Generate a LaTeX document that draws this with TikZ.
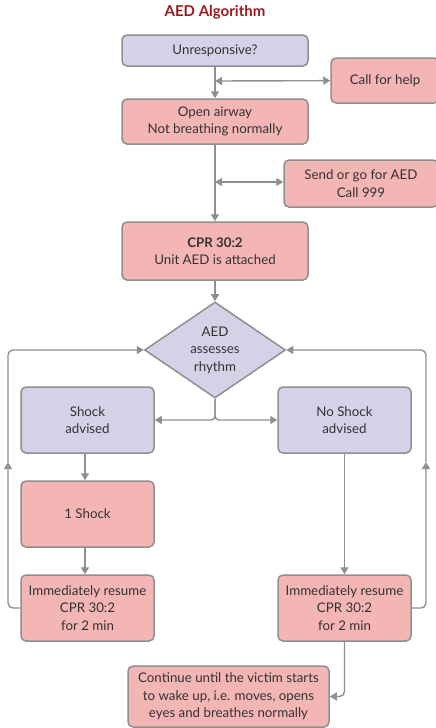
\documentclass[tikz,border=0pt]{standalone}
\usepackage{fontspec}
\setmainfont{Lato}
\usetikzlibrary{shapes.geometric,arrows.meta,positioning}
\definecolor{boxpink}{HTML}{F4B5B5}
\definecolor{boxlilac}{HTML}{D6D1E6}
\definecolor{edgegrey}{HTML}{8F8F8F}
\definecolor{titlered}{HTML}{9B1B1E}
\tikzset{
  stepbox/.style={draw=edgegrey, line width=1.5pt, rounded corners=5pt, align=center,
    inner sep=2pt, text=black!80, font=\fontsize{13.3}{17.5}\selectfont},
  pinkbox/.style={stepbox, fill=boxpink},
  lilacbox/.style={stepbox, fill=boxlilac},
  arr/.style={draw=edgegrey, line width=1.4pt, -{Triangle[width=8pt,length=7pt]}},
  dbl/.style={arr, {Triangle[width=8pt,length=7pt]}-{Triangle[width=8pt,length=7pt]}},
}
\begin{document}
\begin{tikzpicture}[x=1pt,y=-1pt]
        \useasboundingbox (0,0) rectangle (436,728);
        % title
        \node[font=\bfseries\fontsize{15}{17}\selectfont, text=titlered] (title) at (215,12) {AED Algorithm};

        % main column
        \node[lilacbox, minimum width=186pt, minimum height=31pt] (unresp) at (215,50.5) {Unresponsive?};
        \node[pinkbox, minimum width=186pt, minimum height=45pt] (airway) at (215,121.5) {Open airway\\Not breathing normally};
        \node[pinkbox, minimum width=186pt, minimum height=58pt] (cpr) at (215,251) {\textbf{CPR 30:2}\\Unit AED is attached};
        \node[stepbox, shape=diamond, fill=boxlilac, rounded corners=0pt, inner sep=0pt, aspect=1.47,
              minimum width=141pt, minimum height=96pt] (aed) at (215,350) {AED\\assesses\\rhythm};

        % side boxes
        \node[pinkbox, minimum width=108pt, minimum height=45pt] (help) at (385,80.5) {Call for help};
        \node[pinkbox, minimum width=154pt, minimum height=47pt] (send) at (361,183.5) {Send or go for AED\\Call 999};

        % two branches
        \node[lilacbox, minimum width=133pt, minimum height=66pt] (shock) at (87.5,420) {Shock\\advised};
        \node[lilacbox, minimum width=133pt, minimum height=66pt] (noshock) at (344.5,420) {No Shock\\advised};
        \node[pinkbox, minimum width=133pt, minimum height=66pt] (one) at (87.5,514) {1 Shock};
        \node[pinkbox, minimum width=133pt, minimum height=66pt] (resL) at (87.5,608) {Immediately resume\\CPR 30:2\\for 2 min};
        \node[pinkbox, minimum width=133pt, minimum height=66pt] (resR) at (344.5,608) {Immediately resume\\CPR 30:2\\for 2 min};
        \node[pinkbox, minimum width=201pt, minimum height=61pt] (cont) at (228.5,696.5)
              {Continue until the victim starts\\to wake up, i.e. moves, opens\\eyes and breathes normally};

        % junctions
        \coordinate (j1) at (215,81);
        \coordinate (j2) at (215,182);
        \coordinate (upL) at (8,462);
        \coordinate (upR) at (426,462);

        % connectors
        \draw[arr] (unresp) -- (airway);
        \draw[dbl] (j1) -- (help);
        \draw[arr] (airway) -- (cpr);
        \draw[dbl] (j2) -- (send.west |- j2);
        \draw[arr] (cpr) -- (aed);
        \draw[arr, rounded corners=4pt] (aed.south) |- (shock.east);
        \draw[arr, rounded corners=4pt] (aed.south) |- (noshock.west);
        \draw[arr] (shock.south -| 85,0) -- (one.north -| 85,0);
        \draw[arr] (one.south -| 85,0) -- (resL.north -| 85,0);
        \draw[arr] (noshock) -- (resR);
        \draw[arr, rounded corners=5pt] (resR.south) |- (cont.east);

        % loops back to the rhythm check
        \draw[arr, rounded corners=5pt] (resL.west) -| (upL);
        \draw[arr, rounded corners=5pt] (upL) |- (aed.west);
        \draw[arr, rounded corners=5pt] (resR.east) -| (upR);
        \draw[arr, rounded corners=5pt] (upR) |- (aed.east);
\end{tikzpicture}
\end{document}
